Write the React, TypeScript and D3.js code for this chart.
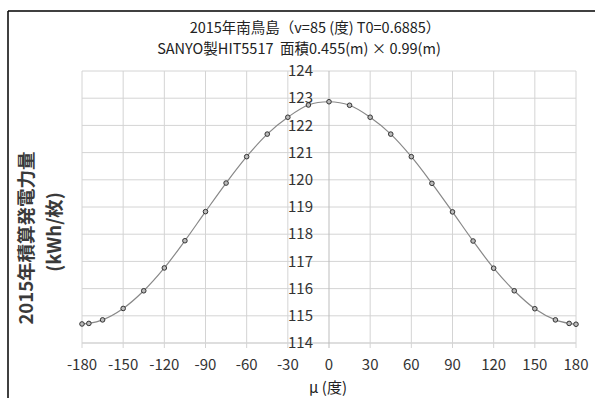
import React from 'react'
import * as d3 from 'd3'

// 2015 南鳥島 annual yield vs azimuth μ
const muValues = [-180, -175, -165, -150, -135, -120, -105, -90, -75, -60, -45, -30, -15, 0,
  15, 30, 45, 60, 75, 90, 105, 120, 135, 150, 165, 175, 180]
const yieldValues = [114.70, 114.72, 114.85, 115.27, 115.92, 116.76, 117.76, 118.83, 119.88, 120.85, 121.68, 122.30, 122.75, 122.87,
  122.74, 122.30, 121.68, 120.85, 119.87, 118.82, 117.75, 116.75, 115.92, 115.26, 114.85, 114.72, 114.69]
const xTicks = [-180, -150, -120, -90, -60, -30, 0, 30, 60, 90, 120, 150, 180]
const yTicks = [114, 115, 116, 117, 118, 119, 120, 121, 122, 123, 124]
const titleLines = ['2015年南鳥島（v=85 (度) T0=0.6885）', 'SANYO製HIT5517  面積0.455(m) × 0.99(m)']
const yTitleLines = ['2015年積算発電力量', '(kWh/枚)']
const xTitle = 'μ (度)'

const W = 595
const H = 398
const font = '"Noto Sans CJK JP", "Noto Sans", sans-serif'

export default function App() {
  const x = d3.scaleLinear().domain([-180, 180]).range([82, 576])
  const y = d3.scaleLinear().domain([114, 124]).range([343, 71])
  const data = muValues.map((m, i) => ({ m, v: yieldValues[i] }))
  const line = d3.line<{ m: number, v: number }>()
    .x(d => x(d.m))
    .y(d => y(d.v))
    .curve(d3.curveCatmullRom.alpha(0.5))

  return (
    <svg width={W} height={H} style={{ position: 'absolute', left: 0, top: 0, background: '#fff' }}
      fontFamily={font}>
      <rect width={W} height={H} fill='#fff' />
      {/* frame */}
      <line x1={8} x2={W} y1={11} y2={11} stroke='#000' strokeWidth={1.5} />
      <line x1={8} x2={8} y1={11} y2={H} stroke='#000' strokeWidth={1.5} />

      {/* grid */}
      {yTicks.map(t => (
        <line key={'h' + t} x1={x(-180)} x2={x(180)} y1={y(t)} y2={y(t)}
          stroke={t === 114 ? '#bdbdbd' : '#d4d4d4'} strokeWidth={1} />
      ))}
      {xTicks.map(t => (
        <line key={'v' + t} x1={x(t)} x2={x(t)} y1={y(124)} y2={y(114) + 5}
          stroke={t === 0 ? '#bdbdbd' : '#d4d4d4'} strokeWidth={1} />
      ))}

      {/* y tick labels */}
      {yTicks.map(t => (
        <text key={'yl' + t} x={x(0) - 16} y={y(t)} dy='0.35em' textAnchor='end'
          fontSize={15} fill='#333'>{t}</text>
      ))}
      {/* x tick labels */}
      {xTicks.map(t => (
        <text key={'xl' + t} x={x(t)} y={365} dy='0.35em' textAnchor='middle'
          fontSize={15} fill='#333'>{t}</text>
      ))}

      {/* series */}
      <path d={line(data) || ''} fill='none' stroke='#888' strokeWidth={1.2} />
      {data.map(d => (
        <circle key={'p' + d.m} cx={x(d.m)} cy={y(d.v)} r={2.3}
          fill='#bbb' stroke='#333' strokeWidth={1} />
      ))}

      {/* titles */}
      <text x={315} y={28} dy='0.35em' textAnchor='middle' fontSize={14.5} fill='#222'
        xmlSpace='preserve'>{titleLines[0]}</text>
      <text x={299} y={49} dy='0.35em' textAnchor='middle' fontSize={14.5} fill='#222'
        xmlSpace='preserve'>{titleLines[1]}</text>
      <text x={328} y={388} dy='0.35em' textAnchor='middle' fontSize={15} fill='#222'>{xTitle}</text>
      <g transform='translate(27,238) rotate(-90)'>
        <text x={0} y={0} dy='0.35em' textAnchor='middle' fontSize={18.5} fontWeight='bold' fill='#3a3a3a'>{yTitleLines[0]}</text>
      </g>
      <g transform='translate(55,232) rotate(-90)'>
        <text x={0} y={0} dy='0.35em' textAnchor='middle' fontSize={18.5} fontWeight='bold' fill='#3a3a3a'>{yTitleLines[1]}</text>
      </g>
    </svg>
  )
}
